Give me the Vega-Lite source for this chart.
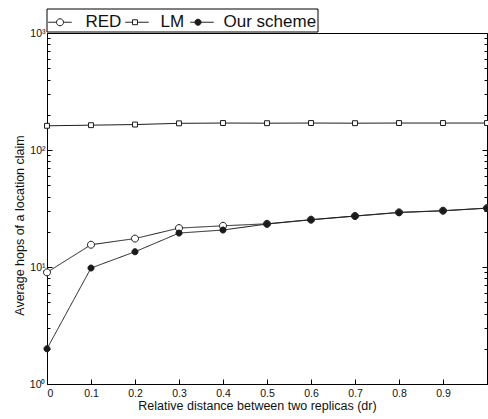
{
  "$schema": "https://vega.github.io/schema/vega-lite/v6.json",
  "autosize": "none",
  "width": 440,
  "height": 351,
  "padding": {"left": 47, "top": 33, "right": 1, "bottom": 35},
  "background": "white",
  "config": {
    "font": "Liberation Sans",
    "view": {"stroke": "#000", "strokeWidth": 1},
    "axis": {"grid": false, "domainColor": "#000", "tickColor": "#000", "labelColor": "#111", "titleColor": "#111", "labelFont": "Liberation Sans", "titleFont": "Liberation Sans", "titleFontWeight": "normal", "domainWidth": 1, "tickWidth": 1}
  },
  "data": {"values": [
    {"dr": 0, "hops": 161, "scheme": "LM"},
    {"dr": 0.1, "hops": 163, "scheme": "LM"},
    {"dr": 0.2, "hops": 165, "scheme": "LM"},
    {"dr": 0.3, "hops": 169, "scheme": "LM"},
    {"dr": 0.4, "hops": 170, "scheme": "LM"},
    {"dr": 0.5, "hops": 169.5, "scheme": "LM"},
    {"dr": 0.6, "hops": 170, "scheme": "LM"},
    {"dr": 0.7, "hops": 169.5, "scheme": "LM"},
    {"dr": 0.8, "hops": 170, "scheme": "LM"},
    {"dr": 0.9, "hops": 170, "scheme": "LM"},
    {"dr": 1.0, "hops": 170, "scheme": "LM"},
    {"dr": 0, "hops": 9, "scheme": "RED"},
    {"dr": 0.1, "hops": 15.5, "scheme": "RED"},
    {"dr": 0.2, "hops": 17.5, "scheme": "RED"},
    {"dr": 0.3, "hops": 21.5, "scheme": "RED"},
    {"dr": 0.4, "hops": 22.5, "scheme": "RED"},
    {"dr": 0.5, "hops": 23.4, "scheme": "RED"},
    {"dr": 0.6, "hops": 25.4, "scheme": "RED"},
    {"dr": 0.7, "hops": 27.3, "scheme": "RED"},
    {"dr": 0.8, "hops": 29.3, "scheme": "RED"},
    {"dr": 0.9, "hops": 30.3, "scheme": "RED"},
    {"dr": 1.0, "hops": 31.9, "scheme": "RED"},
    {"dr": 0, "hops": 2, "scheme": "Our scheme"},
    {"dr": 0.1, "hops": 9.8, "scheme": "Our scheme"},
    {"dr": 0.2, "hops": 13.5, "scheme": "Our scheme"},
    {"dr": 0.3, "hops": 19.5, "scheme": "Our scheme"},
    {"dr": 0.4, "hops": 20.7, "scheme": "Our scheme"},
    {"dr": 0.5, "hops": 23.3, "scheme": "Our scheme"},
    {"dr": 0.6, "hops": 25.3, "scheme": "Our scheme"},
    {"dr": 0.7, "hops": 27.2, "scheme": "Our scheme"},
    {"dr": 0.8, "hops": 29.2, "scheme": "Our scheme"},
    {"dr": 0.9, "hops": 30.2, "scheme": "Our scheme"},
    {"dr": 1.0, "hops": 31.8, "scheme": "Our scheme"}
  ]},
  "layer": [
    {
      "mark": {"type": "line", "color": "#1a1a1a", "strokeWidth": 1},
      "encoding": {
        "x": {"field": "dr", "type": "quantitative", "scale": {"domain": [0, 1], "nice": false},
          "axis": {"orient": "bottom", "values": [0, 0.1, 0.2, 0.3, 0.4, 0.5, 0.6, 0.7, 0.8, 0.9, 1], "format": ".1~f", "labelExpr": "datum.value > 0.95 ? '' : datum.label", "tickSize": -5, "labelPadding": 9, "labelFontSize": 10.5, "title": "Relative distance between two replicas (dr)", "titleFontSize": 12.5, "titleX": 210, "titleY": 25, "titleBaseline": "alphabetic", "titleAnchor": "middle"}},
        "y": {"field": "hops", "type": "quantitative", "scale": {"type": "log", "domain": [1, 1000], "nice": false},
          "axis": {"orient": "left", "values": [1, 2, 3, 4, 5, 6, 7, 8, 9, 10, 20, 30, 40, 50, 60, 70, 80, 90, 100, 200, 300, 400, 500, 600, 700, 800, 900, 1000],
            "labelExpr": "indexof([1, 10, 100, 1000], datum.value) >= 0 ? '10' + ['\u2070', '\u00b9', '\u00b2', '\u00b3'][round(log(datum.value) / LN10)] : ''",
            "tickSize": {"condition": {"test": "indexof([1, 10, 100, 1000], datum.value) >= 0", "value": -5}, "value": -3},
            "labelPadding": 7, "labelFontSize": 10.5, "labelFlush": false,
            "title": "Average hops of a location claim", "titleFontSize": 12.5, "titleX": -28, "titleY": 192, "titleAngle": -90, "titleBaseline": "middle", "titleAnchor": "middle"}},
        "strokeDash": {"field": "scheme", "type": "nominal", "sort": ["RED", "LM", "Our scheme"], "scale": {"range": [[1, 0], [1, 0], [1, 0]]},
          "legend": {"title": null, "orient": "none", "legendX": -0.5, "legendY": -24.5, "direction": "horizontal", "strokeColor": null, "fillColor": null, "padding": 1, "symbolSize": 545, "symbolType": "stroke", "symbolStrokeColor": "#000", "symbolStrokeWidth": 1, "labelOffset": 13, "columnPadding": 1, "labelFontSize": 17, "labelFont": "Liberation Sans", "labelOpacity": 0, "labelLimit": 300}}
      }
    },
    {
      "mark": {"type": "point", "strokeWidth": 1, "opacity": 1, "filled": false, "size": 545},
      "encoding": {
        "x": {"field": "dr", "type": "quantitative"},
        "y": {"field": "hops", "type": "quantitative", "axis": {"orient": "right", "values": [1, 2, 3, 4, 5, 6, 7, 8, 9, 10, 20, 30, 40, 50, 60, 70, 80, 90, 100, 200, 300, 400, 500, 600, 700, 800, 900, 1000], "labels": false,
            "tickSize": {"condition": {"test": "indexof([1, 10, 100, 1000], datum.value) >= 0", "value": -5}, "value": -3}, "title": null}},
        "shape": {"field": "scheme", "type": "nominal", "scale": {"domain": ["RED", "LM", "Our scheme"], "range": ["M-0.3,0A0.3,0.3 0 1,1 0.3,0A0.3,0.3 0 1,1 -0.3,0Z", "M-0.21,-0.21H0.21V0.21H-0.21Z", "M-0.26,0A0.26,0.26 0 1,1 0.26,0A0.26,0.26 0 1,1 -0.26,0Z"]},
          "legend": {"title": null, "orient": "none", "legendX": -0.5, "legendY": -24.5, "direction": "horizontal", "strokeColor": "#000", "fillColor": null, "padding": 1, "symbolSize": 545, "symbolStrokeWidth": 1, "labelOffset": 13, "columnPadding": 1, "labelFontSize": 17, "labelFont": "Liberation Sans", "labelColor": "#111", "labelLimit": 300}},
        "fill": {"field": "scheme", "type": "nominal", "scale": {"domain": ["RED", "LM", "Our scheme"], "range": ["#ffffff", "#ffffff", "#1a1a1a"]},
          "legend": {"title": null, "orient": "none", "legendX": -0.5, "legendY": -24.5, "direction": "horizontal", "strokeColor": "#000", "fillColor": null, "padding": 1, "symbolSize": 545, "symbolStrokeWidth": 1, "labelOffset": 13, "columnPadding": 1, "labelFontSize": 17, "labelFont": "Liberation Sans", "labelColor": "#111", "labelLimit": 300}},
        "stroke": {"field": "scheme", "type": "nominal", "scale": {"domain": ["RED", "LM", "Our scheme"], "range": ["#1a1a1a", "#1a1a1a", "#1a1a1a"]},
          "legend": {"title": null, "orient": "none", "legendX": -0.5, "legendY": -24.5, "direction": "horizontal", "strokeColor": "#000", "fillColor": null, "padding": 1, "symbolSize": 545, "symbolStrokeWidth": 1, "labelOffset": 13, "columnPadding": 1, "labelFontSize": 17, "labelFont": "Liberation Sans", "labelColor": "#111", "labelLimit": 300}}
      }
    }
  ],
  "resolve": {"axis": {"y": "independent"}}
}
